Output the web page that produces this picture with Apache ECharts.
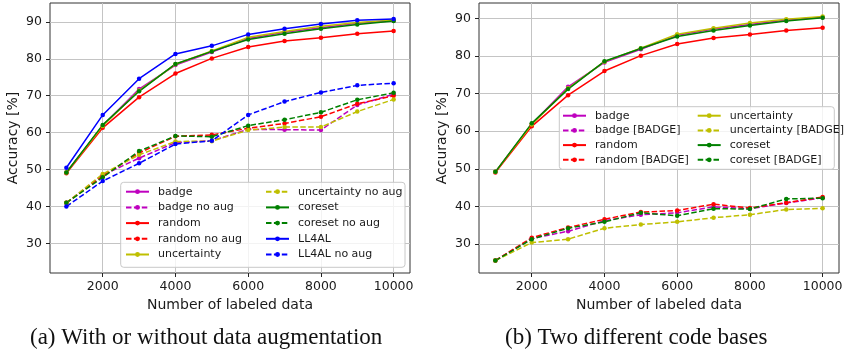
<!DOCTYPE html>
<html>
<head>
<meta charset="utf-8">
<script src="https://cdn.jsdelivr.net/npm/echarts@6/dist/echarts.min.js"></script>
<style>
  html, body { margin: 0; padding: 0; background: #fff; }
  #chart { width: 846px; height: 354px; }
</style>
</head>
<body>
<div id="chart"></div>
<script>
// x: number of labeled data
const labeled = [1000, 2000, 3000, 4000, 5000, 6000, 7000, 8000, 9000, 10000];
const xTicks = [2000, 4000, 6000, 8000, 10000];
const yTicks = [30, 40, 50, 60, 70, 80, 90];

// (a) with augmentation
const badgeAcc = [49.2, 61.9, 71.8, 78.3, 81.8, 85.5, 87.2, 88.4, 89.6, 90.3];
const randomAcc = [49.0, 61.3, 69.6, 76.0, 80.1, 83.2, 84.8, 85.7, 86.8, 87.5];
const uncertaintyAcc = [49.2, 61.8, 71.4, 78.5, 82.1, 85.8, 87.4, 88.8, 89.8, 90.5];
const coresetAcc = [49.2, 62.1, 71.2, 78.6, 82.0, 85.2, 86.8, 88.1, 89.3, 90.2];
const ll4alAcc = [50.5, 64.8, 74.6, 81.3, 83.5, 86.6, 88.1, 89.4, 90.4, 90.8];
// (a) without augmentation
const badgeNoAug = [41.0, 48.5, 53.1, 57.3, 57.8, 60.9, 60.8, 60.7, 67.5, 70.4];
const randomNoAug = [41.0, 48.2, 54.5, 59.0, 59.4, 61.2, 62.5, 64.3, 67.8, 70.0];
const uncertaintyNoAug = [41.0, 48.8, 54.0, 57.6, 57.7, 60.7, 61.5, 61.5, 65.7, 69.0];
const coresetNoAug = [41.0, 47.9, 55.0, 59.1, 58.9, 61.9, 63.5, 65.5, 68.9, 70.8];
const ll4alNoAug = [40.0, 46.9, 51.7, 56.9, 57.8, 64.8, 68.4, 70.9, 72.8, 73.4];
// (b) BADGE code base
const badgeB = [25.6, 31.5, 33.4, 36.2, 37.8, 38.3, 39.9, 39.4, 40.9, 42.3];
const randomB = [25.6, 31.7, 34.4, 36.6, 38.5, 38.9, 40.6, 39.6, 41.0, 42.5];
const uncertaintyB = [25.6, 30.4, 31.3, 34.2, 35.2, 35.9, 37.0, 37.8, 39.2, 39.5];
const coresetB = [25.6, 31.3, 34.2, 35.9, 38.3, 37.5, 39.4, 39.3, 42.0, 42.2];

const C = { m: '#bf00bf', r: '#ff0000', y: '#bfbf00', g: '#008000', b: '#0000ff' };
const DASH = [5.5, 2.4];
const font = 'DejaVu Sans';
const textColor = '#1a1a1a';

function line(name, vals, color, dashed, idx) {
  return {
    type: 'line',
    name: name,
    xAxisIndex: idx,
    yAxisIndex: idx,
    data: labeled.map((x, i) => [x, vals[i]]),
    symbol: 'circle',
    symbolSize: 4.5,
    showSymbol: true,
    animation: false,
    itemStyle: { color: color },
    lineStyle: { color: color, width: 1.5, type: dashed ? DASH : 'solid' },
    emphasis: { disabled: true }
  };
}

function xAxis(idx) {
  return {
    type: 'value', gridIndex: idx, min: 550, max: 10450,
    name: 'Number of labeled data', nameLocation: 'middle', nameGap: 24,
    nameTextStyle: { fontFamily: font, fontSize: 14, color: textColor },
    axisLine: { show: false },
    axisTick: { show: true, length: 4, customValues: xTicks, lineStyle: { color: '#222' } },
    axisLabel: { customValues: xTicks, margin: 7, fontFamily: font, fontSize: 12.5, color: textColor,
      formatter: v => String(v) },
    splitLine: { show: true, lineStyle: { color: '#c4c4c4', width: 1 } }
  };
}
function yAxis(idx, min, max) {
  return {
    type: 'value', gridIndex: idx, min: min, max: max,
    name: 'Accuracy [%]', nameLocation: 'middle', nameGap: 30,
    nameTextStyle: { fontFamily: font, fontSize: 14, color: textColor },
    axisLine: { show: false },
    axisTick: { show: true, length: 4, customValues: yTicks, lineStyle: { color: '#222' } },
    axisLabel: { customValues: yTicks, margin: 8, fontFamily: font, fontSize: 12.5, color: textColor,
      formatter: v => String(v) },
    splitLine: { show: true, lineStyle: { color: '#c4c4c4', width: 1 } }
  };
}
function legend(names, left, top, gap) {
  return {
    data: names, orient: 'vertical', left: left, top: top, padding: 0,
    itemWidth: 23, itemHeight: 6, itemGap: gap, selectedMode: false,
    textStyle: { fontFamily: font, fontSize: 11, color: textColor, lineHeight: 12, padding: [0, 0, 0, 4] }
  };
}

const chart = echarts.init(document.getElementById('chart'), null, { renderer: 'canvas' });
chart.setOption({
  animation: false,
  backgroundColor: '#fff',
  grid: [
    { left: 50, top: 3, width: 360, height: 270, show: true, borderColor: '#333', borderWidth: 1 },
    { left: 479, top: 3, width: 360, height: 270, show: true, borderColor: '#333', borderWidth: 1 }
  ],
  xAxis: [xAxis(0), xAxis(1)],
  yAxis: [yAxis(0, 22, 95.1), yAxis(1, 22.3, 94.1)],
  title: [
    { text: '(a) With or without data augmentation', left: 30, top: 326, padding: 0,
      textStyle: { fontFamily: 'Liberation Serif', fontSize: 23, fontWeight: 'normal', color: '#111' } },
    { text: '(b) Two different code bases', left: 505, top: 326, padding: 0,
      textStyle: { fontFamily: 'Liberation Serif', fontSize: 23, fontWeight: 'normal', color: '#111' } }
  ],
  legend: [
    legend(['badge', 'badge no aug', 'random', 'random no aug', 'uncertainty'], 125, 185.7, 3.7),
    legend(['uncertainty no aug', 'coreset', 'coreset no aug', 'LL4AL', 'LL4AL no aug'], 265, 185.7, 3.7),
    legend(['badge', 'badge [BADGE]', 'random', 'random [BADGE]'], 562, 109.7, 2.7),
    legend(['uncertainty', 'uncertainty [BADGE]', 'coreset', 'coreset [BADGE]'], 696.7, 109.7, 2.7)
  ],
  graphic: [
    { type: 'rect', z: 3, shape: { x: 120.7, y: 182.3, width: 284.3, height: 85, r: 3 },
      style: { fill: 'rgba(255,255,255,0.8)', stroke: '#c8c8c8', lineWidth: 1 } },
    { type: 'rect', z: 3, shape: { x: 559.3, y: 106.7, width: 275, height: 62.6, r: 3 },
      style: { fill: 'rgba(255,255,255,0.8)', stroke: '#c8c8c8', lineWidth: 1 } }
  ],
  series: [
    line('badge', badgeAcc, C.m, false, 0),
    line('badge no aug', badgeNoAug, C.m, true, 0),
    line('random', randomAcc, C.r, false, 0),
    line('random no aug', randomNoAug, C.r, true, 0),
    line('uncertainty', uncertaintyAcc, C.y, false, 0),
    line('uncertainty no aug', uncertaintyNoAug, C.y, true, 0),
    line('coreset', coresetAcc, C.g, false, 0),
    line('coreset no aug', coresetNoAug, C.g, true, 0),
    line('LL4AL', ll4alAcc, C.b, false, 0),
    line('LL4AL no aug', ll4alNoAug, C.b, true, 0),

    line('badge', badgeAcc, C.m, false, 1),
    line('badge [BADGE]', badgeB, C.m, true, 1),
    line('random', randomAcc, C.r, false, 1),
    line('random [BADGE]', randomB, C.r, true, 1),
    line('uncertainty', uncertaintyAcc, C.y, false, 1),
    line('uncertainty [BADGE]', uncertaintyB, C.y, true, 1),
    line('coreset', coresetAcc, C.g, false, 1),
    line('coreset [BADGE]', coresetB, C.g, true, 1)
  ]
});
</script>
</body>
</html>
